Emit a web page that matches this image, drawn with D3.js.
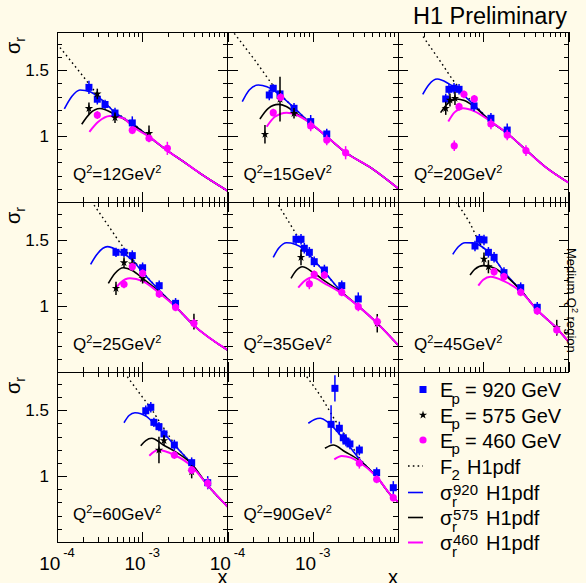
<!DOCTYPE html>
<html><head><meta charset="utf-8">
<script src="https://cdn.jsdelivr.net/npm/d3@7"></script>
<style>
html,body{margin:0;padding:0;background:#fffbe9;}
svg{display:block;font-family:"Liberation Sans",Arial,Helvetica,sans-serif;}
</style></head><body>
<svg id="c" width="586" height="583"></svg>
<script>
// ---------------- DATA ----------------
const q2Labels = ["12","15","20","25","35","45","60","90"];

// measured points per panel: [x, sigma_r, error]
const data920 = [
 [[2.37e-4,1.37,0.05],[2.97e-4,1.28,0.04],[3.66e-4,1.24,0.035],[4.79e-4,1.175,0.04],[7.64e-4,1.10,0.05]],
 [[3.09e-4,1.312,0.04],[3.44e-4,1.363,0.03],[4.13e-4,1.32,0.03],[6.03e-4,1.211,0.04],[9.46e-4,1.11,0.05],[1.46e-3,1.016,0.04]],
 [[3.63e-4,1.282,0.04],[3.96e-4,1.355,0.04],[4.54e-4,1.363,0.04],[5.2e-4,1.355,0.04],[7.8e-4,1.229,0.04],[1.23e-3,1.135,0.04],[1.91e-3,1.046,0.05]],
 [[4.92e-4,1.408,0.035],[6.11e-4,1.408,0.035],[7.64e-4,1.383,0.04],[1.01e-3,1.291,0.04],[1.58e-3,1.155,0.04],[2.46e-3,1.021,0.04]],
 [[6.37e-4,1.507,0.04],[7.28e-4,1.507,0.04],[7.96e-4,1.439,0.04],[9.12e-4,1.408,0.04],[1.04e-3,1.337,0.04],[1.37e-3,1.274,0.04],[2.19e-3,1.155,0.04],[3.42e-3,1.054,0.05]],
 [[8e-4,1.456,0.04],[9e-4,1.507,0.04],[1.02e-3,1.502,0.04],[1.15e-3,1.408,0.04],[1.34e-3,1.37,0.04],[1.75e-3,1.254,0.04],[2.75e-3,1.14,0.04],[4.3e-3,0.991,0.04]],
 [[1.1e-3,1.496,0.04],[1.26e-3,1.522,0.04],[1.37e-3,1.408,0.035],[1.57e-3,1.375,0.035],[1.8e-3,1.32,0.035],[2.38e-3,1.236,0.04],[3.8e-3,1.102,0.04],[5.86e-3,0.95,0.05]],
 [[1.82e-3,1.666,0.1],[1.64e-3,1.393,0.145],[2.05e-3,1.363,0.05],[2.28e-3,1.291,0.04],[2.45e-3,1.266,0.04],[2.73e-3,1.244,0.04],[3.52e-3,1.198,0.04],[5.62e-3,1.026,0.04],[8.81e-3,0.912,0.05]]
];
const data575 = [
 [[2.37e-4,1.21,0.045],[2.97e-4,1.32,0.04],[4.79e-4,1.14,0.04],[1.2e-3,1.02,0.06]],
 [[2.75e-4,1.014,0.07],[4.13e-4,1.28,0.17],[6.03e-4,1.173,0.04]],
 [[3.63e-4,1.211,0.05],[4.07e-4,1.274,0.05],[4.66e-4,1.287,0.05]],
 [[4.92e-4,1.135,0.05],[6.11e-4,1.33,0.04],[7.64e-4,1.32,0.04],[1.01e-3,1.211,0.04],[4.04e-3,0.882,0.06]],
 [[7.28e-4,1.37,0.06],[5.71e-3,0.87,0.07]],
 [[1.02e-3,1.357,0.05],[1.15e-3,1.299,0.05],[7.28e-3,0.836,0.06]],
 [[1.57e-3,1.198,0.1],[1.8e-3,1.27,0.04],[3.8e-3,1.033,0.05]],
 []
];
const data460 = [
 [[2.97e-4,1.16,0.03],[7.64e-4,1.045,0.03],[1.2e-3,0.983,0.03],[1.97e-3,0.907,0.05]],
 [[3.44e-4,1.178,0.03],[4.2e-4,1.295,0.03],[9.46e-4,1.077,0.04],[1.46e-3,0.97,0.04],[2.43e-3,0.874,0.05]],
 [[4.57e-4,0.927,0.04],[5.2e-4,1.223,0.03],[5.94e-4,1.317,0.03],[7.85e-4,1.282,0.03],[1.23e-3,1.092,0.04],[1.91e-3,1.008,0.04],[3.17e-3,0.89,0.04]],
 [[6.11e-4,1.165,0.03],[7.64e-4,1.299,0.03],[1.01e-3,1.249,0.03],[1.58e-3,1.092,0.03],[2.46e-3,0.991,0.03],[4.04e-3,0.87,0.035]],
 [[9.12e-4,1.168,0.04],[1.04e-3,1.241,0.03],[1.37e-3,1.236,0.03],[2.19e-3,1.105,0.03],[3.42e-3,0.996,0.035],[5.71e-3,0.882,0.04]],
 [[1.34e-3,1.261,0.03],[1.75e-3,1.223,0.03],[2.75e-3,1.105,0.03],[4.3e-3,0.963,0.03],[7.28e-3,0.819,0.035]],
 [[2.38e-3,1.16,0.03],[3.8e-3,1.046,0.03],[5.86e-3,0.945,0.04]],
 [[3.52e-3,1.097,0.04],[5.62e-3,0.976,0.03],[8.81e-3,0.836,0.03]]
];

// common high-x tail of the H1pdf curves, per panel: [x, value]
const curveTail = [
 [[1.2e-3,0.996],[1.97e-3,0.89],[3e-3,0.809],[4.75e-3,0.718],[1e-2,0.585]],
 [[9.46e-4,1.097],[1.46e-3,0.996],[2.43e-3,0.876],[4.9e-3,0.756],[1e-2,0.604]],
 [[1.23e-3,1.11],[1.91e-3,1.021],[3.17e-3,0.895],[5.3e-3,0.768],[1e-2,0.647]],
 [[1.01e-3,1.211],[1.58e-3,1.11],[2.46e-3,0.996],[4.04e-3,0.853],[1e-2,0.667]],
 [[1.37e-3,1.26],[2.19e-3,1.105],[3.42e-3,1.0],[5.71e-3,0.87],[1e-2,0.705]],
 [[1.75e-3,1.26],[2.75e-3,1.122],[4.3e-3,0.97],[7.28e-3,0.832],[1e-2,0.73]],
 [[3.8e-3,1.092],[5.86e-3,0.93],[1e-2,0.768]],
 [[5.62e-3,0.995],[8.81e-3,0.835],[1e-2,0.806]]
];
// low-x parts of each curve, per panel
const curveF2 = [
 [[1e-4,1.70],[2e-4,1.458],[2.97e-4,1.317],[4.79e-4,1.185],[7.64e-4,1.10]],
 [[1.2e-4,1.78],[2e-4,1.593],[4.13e-4,1.32],[6.03e-4,1.215]],
 [[1.97e-4,1.755],[3.16e-4,1.564],[4.66e-4,1.405],[7.8e-4,1.245]],
 [[2.72e-4,1.767],[4e-4,1.61],[6.11e-4,1.439],[7.64e-4,1.36],[1.01e-3,1.262],[1.58e-3,1.12]],
 [[3.95e-4,1.767],[5e-4,1.66],[7.28e-4,1.489],[1.04e-3,1.35]],
 [[4.79e-4,1.79],[7e-4,1.627],[9.16e-4,1.475],[1.34e-3,1.365]],
 [[6.68e-4,1.754],[1e-3,1.601],[1.26e-3,1.515],[1.57e-3,1.42],[1.94e-3,1.33],[2.38e-3,1.245]],
 [[8.5e-4,1.754],[1.26e-3,1.599],[1.82e-3,1.426],[2.5e-3,1.29],[3.52e-3,1.14]]
];
const curve920 = [
 [[1.22e-4,1.206],[1.49e-4,1.30],[1.86e-4,1.35],[2.44e-4,1.337],[3.19e-4,1.287],[4.79e-4,1.18],[7.64e-4,1.095]],
 [[1.49e-4,1.261],[1.8e-4,1.35],[2.3e-4,1.388],[2.9e-4,1.375],[3.44e-4,1.35],[4.5e-4,1.29],[6.03e-4,1.215]],
 [[1.95e-4,1.317],[2.3e-4,1.39],[2.89e-4,1.433],[3.89e-4,1.40],[5.58e-4,1.325],[7.8e-4,1.236]],
 [[2.48e-4,1.317],[3e-4,1.40],[3.89e-4,1.451],[5.48e-4,1.413],[7.64e-4,1.35],[1.01e-3,1.257],[1.58e-3,1.12]],
 [[3.44e-4,1.37],[4e-4,1.44],[4.94e-4,1.481],[6.2e-4,1.47],[7.96e-4,1.43],[1.04e-3,1.345]],
 [[4.39e-4,1.393],[5.1e-4,1.45],[6.11e-4,1.481],[7.5e-4,1.48],[9.16e-4,1.46],[1.34e-3,1.363]],
 [[6.11e-4,1.405],[7e-4,1.46],[8.22e-4,1.481],[1.13e-3,1.451],[1.48e-3,1.375],[1.94e-3,1.30],[2.38e-3,1.236]],
 [[8.87e-4,1.401],[1.05e-3,1.43],[1.22e-3,1.439],[1.5e-3,1.41],[2.05e-3,1.32],[2.73e-3,1.22],[3.52e-3,1.13]]
];
const curve575 = [
 [[1.95e-4,1.09],[2.44e-4,1.173],[3.19e-4,1.21],[4.79e-4,1.165],[7.64e-4,1.09]],
 [[2.4e-4,1.13],[3.01e-4,1.211],[3.94e-4,1.241],[4.9e-4,1.225],[6.03e-4,1.185]],
 [[3.16e-4,1.178],[3.8e-4,1.245],[4.89e-4,1.282],[6e-4,1.27],[7.8e-4,1.225]],
 [[4e-4,1.173],[4.8e-4,1.25],[6e-4,1.291],[7.64e-4,1.27],[1.01e-3,1.211]],
 [[5.56e-4,1.211],[6.4e-4,1.27],[7.53e-4,1.299],[1.04e-3,1.249],[1.39e-3,1.19]],
 [[7e-4,1.236],[8e-4,1.28],[1e-3,1.307],[1.34e-3,1.29],[1.75e-3,1.24],[2.75e-3,1.12]],
 [[9.6e-4,1.231],[1.1e-3,1.27],[1.29e-3,1.287],[1.77e-3,1.236],[2.38e-3,1.19]],
 [[1.39e-3,1.211],[1.74e-3,1.236],[2.39e-3,1.185],[3.52e-3,1.12]]
];
const curve460 = [
 [[2.4e-4,1.033],[3.05e-4,1.109],[4.17e-4,1.153],[6e-4,1.135],[7.64e-4,1.075]],
 [[2.88e-4,1.071],[3.6e-4,1.147],[4.94e-4,1.178],[6.5e-4,1.16]],
 [[3.89e-4,1.11],[4.6e-4,1.18],[5.83e-4,1.211],[7.8e-4,1.19]],
 [[4.79e-4,1.13],[5.6e-4,1.18],[7.18e-4,1.211],[1.01e-3,1.19],[1.58e-3,1.1]],
 [[6.76e-4,1.14],[8e-4,1.19],[9.89e-4,1.219],[1.39e-3,1.17],[2.19e-3,1.097]],
 [[8.75e-4,1.155],[1e-3,1.2],[1.22e-3,1.223],[1.75e-3,1.19],[2.75e-3,1.11]],
 [[1.21e-3,1.155],[1.54e-3,1.198],[2.38e-3,1.16],[3.8e-3,1.075]],
 [[1.79e-3,1.127],[2.19e-3,1.153],[2.8e-3,1.14],[3.52e-3,1.105]]
];

const yTickLabels = [1, 1.5];
const xTickLabels = [[1e-4,"-4"],[1e-3,"-3"]];
const legendEntries = [
 {kind:"square", main:"E", sub:"p", sup:"", rest:"= 920 GeV"},
 {kind:"star",   main:"E", sub:"p", sup:"", rest:"= 575 GeV"},
 {kind:"circle", main:"E", sub:"p", sup:"", rest:"= 460 GeV"},
 {kind:"f2",     main:"F", sub:"2", sup:"", rest:"H1pdf"},
 {kind:"l920",   main:"σ", sub:"r", sup:"920", rest:"H1pdf"},
 {kind:"l575",   main:"σ", sub:"r", sup:"575", rest:"H1pdf"},
 {kind:"l460",   main:"σ", sub:"r", sup:"460", rest:"H1pdf"}
];

// ---------------- DRAW ----------------
const BLUE = "#0000ff", MAG = "#ff00ff", BLK = "#000000";
const svg = d3.select("#c");
svg.append("rect").attr("width",586).attr("height",583).attr("fill","#fffbe9");

const PW = 170.5, PH = 170, X0 = 57, Y0 = 32;
const minorY = d3.range(6,18).map(v=>v/10).filter(v=>Math.abs(v-1)>1e-6 && Math.abs(v-1.5)>1e-6);
const majorY = [1, 1.5];
const majorX = [1e-4,1e-3,1e-2];
const minorX = [];
[1e-4,1e-3].forEach(d=>{ for(let k=2;k<=9;k++) minorX.push(k*d); });

function full(head, tail){
  const lastX = head[head.length-1][0];
  return head.concat(tail.filter(p=>p[0] > lastX*1.04));
}

q2Labels.forEach((q, i) => {
  const c = i % 3, r = Math.floor(i / 3);
  const L = X0 + c*PW, T = Y0 + r*PH;
  const x = d3.scaleLog().domain([1e-4,1e-2]).range([L, L+PW]);
  const y = d3.scaleLinear().domain([0.5,1.79]).range([T+PH, T]);
  const g = svg.append("g");

  const cid = "clip"+i;
  svg.append("clipPath").attr("id",cid).append("rect")
     .attr("x",L).attr("y",T).attr("width",PW).attr("height",PH);

  // axes ticks (inward on all sides)
  const ax = g.append("g").attr("shape-rendering","crispEdges");
  const strip = s => s.select(".domain").remove();
  ax.append("g").attr("transform",`translate(0,${T+PH})`).call(d3.axisBottom(x).tickValues(minorX).tickSize(-5).tickFormat("")).call(strip);
  ax.append("g").attr("transform",`translate(0,${T+PH})`).call(d3.axisBottom(x).tickValues(majorX).tickSize(-10).tickFormat("")).call(strip);
  ax.append("g").attr("transform",`translate(0,${T})`).call(d3.axisTop(x).tickValues(minorX).tickSize(-5).tickFormat("")).call(strip);
  ax.append("g").attr("transform",`translate(0,${T})`).call(d3.axisTop(x).tickValues(majorX).tickSize(-10).tickFormat("")).call(strip);
  ax.append("g").attr("transform",`translate(${L},0)`).call(d3.axisLeft(y).tickValues(minorY).tickSize(-5).tickFormat("")).call(strip);
  ax.append("g").attr("transform",`translate(${L},0)`).call(d3.axisLeft(y).tickValues(majorY).tickSize(-10).tickFormat("")).call(strip);
  ax.append("g").attr("transform",`translate(${L+PW},0)`).call(d3.axisRight(y).tickValues(minorY).tickSize(-5).tickFormat("")).call(strip);
  ax.append("g").attr("transform",`translate(${L+PW},0)`).call(d3.axisRight(y).tickValues(majorY).tickSize(-10).tickFormat("")).call(strip);

  g.append("rect").attr("x",L).attr("y",T).attr("width",PW).attr("height",PH)
   .attr("fill","none").attr("stroke","#000").attr("stroke-width",1).attr("shape-rendering","crispEdges");

  // curves
  const line = d3.line().x(d=>x(d[0])).y(d=>y(d[1])).curve(d3.curveMonotoneX);
  const cg = g.append("g").attr("clip-path",`url(#${cid})`).attr("fill","none");
  cg.append("path").attr("d", line(full(curveF2[i], curveTail[i])))
    .attr("stroke",BLK).attr("stroke-width",1.4).attr("stroke-dasharray","1.6,3.2");
  cg.append("path").attr("d", line(full(curve920[i], curveTail[i]))).attr("stroke",BLUE).attr("stroke-width",1.6);
  cg.append("path").attr("d", line(full(curve575[i], curveTail[i]))).attr("stroke",BLK).attr("stroke-width",1.6);
  cg.append("path").attr("d", line(full(curve460[i], curveTail[i]))).attr("stroke",MAG).attr("stroke-width",2);

  // data points
  const pg = g.append("g");
  function errBars(arr, col){
    pg.selectAll(null).data(arr).enter().append("line")
      .attr("x1",d=>x(d[0])).attr("x2",d=>x(d[0]))
      .attr("y1",d=>y(d[1]-d[2])).attr("y2",d=>y(d[1]+d[2]))
      .attr("stroke",col).attr("stroke-width",1.5);
  }
  errBars(data920[i], BLUE);
  pg.selectAll(null).data(data920[i]).enter().append("rect")
    .attr("x",d=>x(d[0])-3.5).attr("y",d=>y(d[1])-3.5).attr("width",7).attr("height",7).attr("fill",BLUE);
  errBars(data575[i], BLK);
  pg.selectAll(null).data(data575[i]).enter().append("path")
    .attr("d", d3.symbol(d3.symbolStar, 22)())
    .attr("transform",d=>`translate(${x(d[0])},${y(d[1])})`).attr("fill",BLK);
  errBars(data460[i], MAG);
  pg.selectAll(null).data(data460[i]).enter().append("circle")
    .attr("cx",d=>x(d[0])).attr("cy",d=>y(d[1])).attr("r",3.6).attr("fill",MAG);

  // Q2 label
  const qt = g.append("text").attr("x",L+16).attr("y",T+148).attr("font-size",17).attr("fill","#000");
  qt.append("tspan").text("Q");
  qt.append("tspan").attr("font-size",11).attr("dy",-7).text("2");
  qt.append("tspan").attr("dy",7).text("="+q+"GeV");
  qt.append("tspan").attr("font-size",11).attr("dy",-7).text("2");

  // y tick labels and title on left column
  if (c === 0) {
    yTickLabels.forEach(v => {
      g.append("text").attr("x",L-8).attr("y",y(v)+6).attr("text-anchor","end")
       .attr("font-size",17).text(String(v));
    });
    const yt = g.append("text").attr("transform",`translate(20,${T+5}) rotate(-90)`)
      .attr("text-anchor","end").attr("font-size",20);
    yt.append("tspan").text("σ");
    yt.append("tspan").attr("font-size",14).attr("dy",5).text("r");
  }
  // x tick labels on bottom row
  if (r === 2) {
    xTickLabels.forEach(([v,e]) => {
      const t = g.append("text").attr("x",x(v)).attr("y",570).attr("text-anchor","middle").attr("font-size",19);
      t.append("tspan").text("10");
      t.append("tspan").attr("font-size",13).attr("dy",-13).attr("dx",3).text(e);
    });
    g.append("text").attr("x",L+PW).attr("y",584).attr("text-anchor","end").attr("font-size",20).text("x");
  }
});

// title
svg.append("text").attr("x",567).attr("y",24).attr("text-anchor","end").attr("font-size",23.5).text("H1 Preliminary");

// side note
const side = svg.append("text").attr("transform","translate(567,248) rotate(90)").attr("font-size",13);
side.append("tspan").text("Medium Q");
side.append("tspan").attr("font-size",9).attr("dy",-5).text("2");
side.append("tspan").attr("dy",5).text(" region");

// legend
const lg = svg.append("g");
const baseY = [397, 422.5, 447.5, 473.5, 500, 525, 550];
legendEntries.forEach((e, k) => {
  const by = baseY[k];
  const my = by - 7.5;
  if (e.kind === "square") lg.append("rect").attr("x",423-3.5).attr("y",my-3.5).attr("width",7).attr("height",7).attr("fill",BLUE);
  else if (e.kind === "star") lg.append("path").attr("d",d3.symbol(d3.symbolStar,22)()).attr("transform",`translate(423,${my})`).attr("fill",BLK);
  else if (e.kind === "circle") lg.append("circle").attr("cx",423).attr("cy",my).attr("r",3.6).attr("fill",MAG);
  else {
    const col = e.kind==="l920"?BLUE:(e.kind==="l460"?MAG:BLK);
    lg.append("line").attr("x1",408).attr("x2",423).attr("y1",my).attr("y2",my)
      .attr("stroke",col).attr("stroke-width",e.kind==="l460"?2:1.6)
      .attr("stroke-dasharray", e.kind==="f2"?"1.6,3.2":null);
  }
  lg.append("text").attr("x",440).attr("y",by).attr("font-size",20).text(e.main);
  const sx = e.main==="σ" ? 452 : 451.5;
  lg.append("text").attr("x",sx).attr("y",by+6.5).attr("font-size",15).text(e.sub);
  if (e.sup) lg.append("text").attr("x",sx+1).attr("y",by-5).attr("font-size",15).text(e.sup);
  const rx = e.sup ? 486 : (e.kind==="f2" ? 467 : 465);
  lg.append("text").attr("x",rx).attr("y",by).attr("font-size",20).text(e.rest);
});
</script>
</body></html>
